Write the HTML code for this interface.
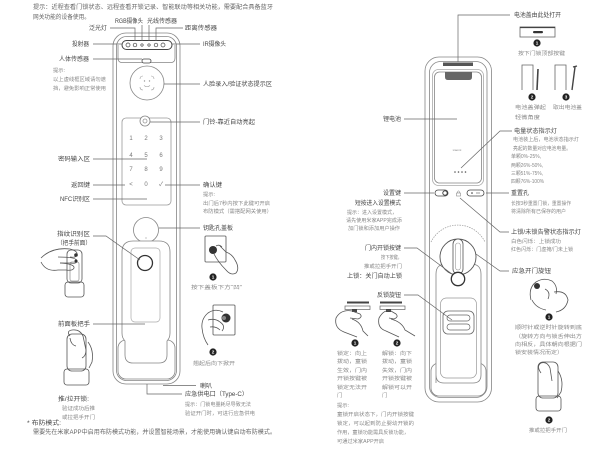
<!DOCTYPE html>
<html><head><meta charset="utf-8"><style>
html,body{margin:0;padding:0;background:#fff;width:600px;height:450px;overflow:hidden}
svg{display:block}
text{font-family:"Liberation Sans","Noto Sans CJK SC",sans-serif}
.l{font-size:6px;fill:#444}
.n{font-size:5.3px;fill:#888}
.t{font-size:6px;fill:#666}
.k{font-size:6px;fill:#777;text-anchor:middle}
.b{font-size:4.6px;fill:#fff;text-anchor:middle;font-weight:bold}
</style></head><body>
<svg width="600" height="450" viewBox="0 0 600 450" xmlns="http://www.w3.org/2000/svg">
<rect width="600" height="450" fill="#fff"/>

<!-- ================= LEFT TOP NOTE ================= -->
<text class="t" x="33" y="9" textLength="240" lengthAdjust="spacingAndGlyphs">提示：近程查看门锁状态、远程查看开锁记录、智能联动等相关功能，需要配合具备蓝牙</text>
<text class="t" x="33" y="19" textLength="57" lengthAdjust="spacingAndGlyphs">网关功能的设备使用。</text>

<!-- ================= LEFT DEVICE ================= -->
<g fill="none" stroke="#858585" stroke-width="0.8">
  <rect x="113" y="33" width="67" height="351" rx="13"/>
  <rect x="116.5" y="36.5" width="60" height="344" rx="10"/>
  <path d="M118,45 L118,58 Q118,62.5 122,62.5 L171,62.5 Q175,62.5 175,58 L175,45"/>
  <circle cx="147" cy="83" r="17"/>
  <rect x="122" y="118" width="49" height="87" rx="4" stroke="#999"/>
  <circle cx="145" cy="121" r="5" fill="#fff"/>
  <circle cx="145" cy="121" r="2" stroke="#999"/>
  <circle cx="146" cy="230" r="12.5"/>
  <rect x="118" y="340" width="57" height="39" rx="8"/>
</g>
<circle cx="146" cy="238" r="0.6" fill="#999"/>
<rect x="122" y="40.5" width="50" height="9" rx="4.5" fill="#fff" stroke="#444" stroke-width="1"/>
<g fill="#fff" stroke="#444" stroke-width="0.7">
  <circle cx="128" cy="45" r="2"/><circle cx="135" cy="45" r="1.8"/><circle cx="142" cy="45" r="1.2"/>
  <circle cx="149" cy="45" r="1.2"/><circle cx="156" cy="45" r="1.8"/><circle cx="163" cy="45" r="2"/>
</g>
<rect x="142" y="59" width="9" height="4" rx="2" fill="#fff" stroke="#444" stroke-width="0.8"/>
<g fill="none" stroke="#999" stroke-width="0.6">
  <path d="M140,79 Q140,76 143,76 M151,76 Q154,76 154,79 M140,87 Q140,90 143,90 M151,90 Q154,90 154,87 M144,85.5 Q147,88 150,85.5"/>
  <circle cx="144.5" cy="81" r="0.4"/><circle cx="149.5" cy="81" r="0.4"/>
</g>
<text class="k" x="131" y="140">1</text><text class="k" x="146" y="140">2</text><text class="k" x="161" y="140">3</text>
<text class="k" x="131" y="157">4</text><text class="k" x="146" y="157">5</text><text class="k" x="161" y="157">6</text>
<text class="k" x="131" y="171">7</text><text class="k" x="146" y="171">8</text><text class="k" x="161" y="171">9</text>
<text class="k" x="131" y="186">&lt;</text><text class="k" x="146" y="186">0</text><text class="k" x="161" y="186">✓</text>
<path d="M122,333 L122,252 Q122,241 133,241 L159,241 Q170,241 170,252 L170,333 Q170,338 167,341 L167,355 Q167,363 159,363 L133,363 Q125,363 125,355 L125,341 Q122,338 122,333 Z" fill="#fff" stroke="#858585" stroke-width="0.8"/>
<rect x="131" y="248" width="29" height="74" rx="4" fill="none" stroke="#aaa" stroke-width="0.7"/>
<circle cx="145" cy="263" r="7.5" fill="#fff" stroke="#333" stroke-width="1.3"/>

<g fill="none" stroke="#666" stroke-width="0.7">
  <path d="M110,28 H135 V41"/><path d="M142,25 V41"/><path d="M149,25 V41"/><path d="M183,28 H156 V41"/>
  <path d="M93,44 H122"/><path d="M172,44 H200"/><path d="M93,59 H142"/>
  <path d="M164,84 H200"/><path d="M150,122 H200"/>
  <path d="M93,159 H147"/><path d="M93,185 H125"/><path d="M93,199 H147"/>
  <path d="M165,185 H200"/><path d="M159,228 H200"/>
  <path d="M93,236 H106 L140,260"/><path d="M93,324 H145"/>
  <path d="M163,385.5 H196"/><path d="M147,384 V394 H182"/>
</g>

<text class="l" x="115" y="23" textLength="28" lengthAdjust="spacingAndGlyphs">RGB摄像头</text>
<text class="l" x="147" y="23" textLength="30" lengthAdjust="spacingAndGlyphs">光线传感器</text>
<text class="l" x="89" y="30" textLength="18" lengthAdjust="spacingAndGlyphs">泛光灯</text>
<text class="l" x="185" y="30" textLength="32" lengthAdjust="spacingAndGlyphs">距离传感器</text>
<text class="l" x="72" y="46" textLength="17" lengthAdjust="spacingAndGlyphs">投射器</text>
<text class="l" x="203" y="46" textLength="23" lengthAdjust="spacingAndGlyphs">IR摄像头</text>
<text class="l" x="59" y="61" textLength="30" lengthAdjust="spacingAndGlyphs">人体传感器</text>
<text class="n" x="53" y="72">提示:</text>
<text class="n" x="53" y="81" textLength="53" lengthAdjust="spacingAndGlyphs">以上虚线框区域请勿遮</text>
<text class="n" x="53" y="90" textLength="53" lengthAdjust="spacingAndGlyphs">挡，避免影响正常使用</text>
<text class="l" x="203" y="86" textLength="69" lengthAdjust="spacingAndGlyphs">人脸录入/验证状态提示区</text>
<text class="l" x="203" y="124" textLength="52" lengthAdjust="spacingAndGlyphs">门铃-靠近自动亮起</text>
<text class="l" x="58" y="161" textLength="32" lengthAdjust="spacingAndGlyphs">密码输入区</text>
<text class="l" x="71" y="187" textLength="19" lengthAdjust="spacingAndGlyphs">返回键</text>
<text class="l" x="60" y="201" textLength="30" lengthAdjust="spacingAndGlyphs">NFC识别区</text>
<text class="l" x="203" y="187" textLength="19" lengthAdjust="spacingAndGlyphs">确认键</text>
<text class="n" x="203" y="196">提示:</text>
<text class="n" x="203" y="205" textLength="67" lengthAdjust="spacingAndGlyphs">出门后7秒内按下此键可开启</text>
<text class="n" x="203" y="213" textLength="69" lengthAdjust="spacingAndGlyphs">布防模式（需搭配网关使用）</text>
<text class="l" x="203" y="230" textLength="30" lengthAdjust="spacingAndGlyphs">钥匙孔盖板</text>
<text class="l" x="57" y="236" textLength="33" lengthAdjust="spacingAndGlyphs">指纹识别区</text>
<text class="l" x="57" y="245" textLength="34" lengthAdjust="spacingAndGlyphs">（把手前面）</text>
<text class="n" x="191" y="289" textLength="51" lengthAdjust="spacingAndGlyphs">按下盖板下方“凹”</text>
<text class="l" x="58" y="326" textLength="32" lengthAdjust="spacingAndGlyphs">前面板把手</text>
<text class="n" x="193" y="365" textLength="42" lengthAdjust="spacingAndGlyphs">翘起后向下掀开</text>
<text class="l" x="200" y="388" textLength="12" lengthAdjust="spacingAndGlyphs">喇叭</text>
<text class="l" x="185" y="396" textLength="63" lengthAdjust="spacingAndGlyphs">应急供电口（Type-C）</text>
<text class="n" x="185" y="406" textLength="66" lengthAdjust="spacingAndGlyphs">提示：门锁电量耗尽导致无法</text>
<text class="n" x="185" y="415" textLength="70" lengthAdjust="spacingAndGlyphs">验证开门时，可进行应急供电</text>
<text class="l" x="58" y="401" textLength="31" lengthAdjust="spacingAndGlyphs">推/拉开锁:</text>
<text class="n" x="62" y="410" textLength="33" lengthAdjust="spacingAndGlyphs">验证成功后推</text>
<text class="n" x="62" y="419" textLength="33" lengthAdjust="spacingAndGlyphs">或拉把手开门</text>
<text class="l" x="27" y="425" textLength="34" lengthAdjust="spacingAndGlyphs">* 布防模式:</text>
<text class="t" x="33" y="434" textLength="243" lengthAdjust="spacingAndGlyphs">需要先在米家APP中启用布防模式功能，并设置智能场景，才能使用确认键启动布防模式。</text>

<g fill="none" stroke="#555" stroke-width="0.8">
  <rect x="67" y="250" width="15" height="33" rx="4"/>
  <rect x="70" y="262" width="9" height="19" rx="2" stroke="#999"/>
  <rect x="65" y="282" width="19" height="15" rx="3"/>
  <path d="M41,258 Q52,247 70,249 Q78,251 77,255 Q76,258 70,257"/>
  <path d="M58,257 Q77,257 77,261 Q77,264 70,263 L60,263"/>
  <path d="M60,263 Q75,264 74,268 Q73,271 66,270 L58,270"/>
  <path d="M41,262 Q46,272 58,270"/>
  <rect x="67" y="334" width="19" height="37" rx="5"/>
  <rect x="64" y="369" width="25" height="16" rx="3"/>
  <path d="M70,336 Q66,331 72,330 Q80,329 83,336 L86,350 Q86,356 82,358"/>
  <path d="M70,338 Q71,345 76,346 M88,342 Q94,350 92,362 L89,368"/>
  <rect x="205" y="236" width="21" height="26" rx="1"/>
  <path d="M214,254 Q218,262 226,270 Q231,276 236,273 Q240,268 235,260 Q232,254 226,252 L220,246"/>
  <path d="M216,246 Q219,244 222,247"/>
  <rect x="213" y="305" width="22" height="30" rx="1"/>
  <path d="M223,312 Q215,308 208,313 Q201,319 202,328 Q203,338 208,345 M208,320 Q215,318 220,322 M210,327 Q216,326 220,330 M220,322 Q226,326 222,331"/>
</g>
<circle cx="213" cy="250" r="4" fill="#333"/>
<circle cx="226" cy="318" r="4.5" fill="#333"/>
<circle cx="224" cy="318" r="2" fill="#888"/>
<circle cx="76" cy="255" r="1.8" fill="#333"/><circle cx="76" cy="261" r="1.5" fill="#333"/>
<circle cx="213" cy="277" r="3.6" fill="#222"/><text class="b" x="213" y="278.6">1</text>
<circle cx="213" cy="352" r="3.6" fill="#222"/><text class="b" x="213" y="353.6">2</text>

<!-- ================= RIGHT DEVICE ================= -->
<g fill="none" stroke="#858585" stroke-width="0.8">
  <rect x="425" y="57" width="66.5" height="345" rx="14"/>
  <rect x="429.5" y="61.5" width="57.5" height="336" rx="11"/>
  <rect x="432.5" y="69.5" width="51" height="116" rx="6" stroke="#aaa"/>
  <rect x="434.5" y="72" width="47" height="111" rx="5"/>
  <rect x="431" y="363" width="55" height="33" rx="8"/>
</g>
<rect x="443" y="62.5" width="30" height="3.5" fill="#555"/>
<path d="M445,72 L472,72 L472,77 Q472,80 469,80 L448,80 Q445,80 445,77 Z" fill="#666"/>
<text x="457" y="151" style="font-size:3px;fill:#888;text-anchor:middle">xiaomi</text>
<g fill="#555"><circle cx="455" cy="172" r="0.8"/><circle cx="458.5" cy="172" r="0.8"/><circle cx="462" cy="172" r="0.8"/><circle cx="465.5" cy="172" r="0.8"/></g>
<rect x="435" y="190" width="13" height="6" rx="3" fill="#fff" stroke="#444" stroke-width="0.8"/>
<circle cx="445" cy="193" r="2.2" fill="#fff" stroke="#333" stroke-width="0.9"/>
<rect x="467" y="190" width="17" height="6" rx="3" fill="#fff" stroke="#444" stroke-width="0.8"/>
<circle cx="472" cy="193" r="0.8" fill="#333"/><path d="M476,193 H480" stroke="#555" stroke-width="0.6"/>
<rect x="456.5" y="193" width="4" height="3" fill="none" stroke="#777" stroke-width="0.5"/>
<path d="M457.3,193 V191.8 Q458.5,190 459.7,191.8 V193" fill="none" stroke="#777" stroke-width="0.5"/>
<path d="M436,383 L436,274 Q436,264 446,264 L471,264 Q481,264 481,274 L481,375 Q481,383 473,383 L444,383 Q436,383 436,375 Z" fill="#fff" stroke="#858585" stroke-width="0.8"/>
<rect x="440.5" y="298" width="36" height="80" rx="6" fill="none" stroke="#999" stroke-width="0.7"/>
<path d="M431,242 A30,30 0 0 1 485,242" fill="none" stroke="#999" stroke-width="0.7" stroke-dasharray="1.5,1"/>
<circle cx="458" cy="257" r="18" fill="#fff" stroke="#555" stroke-width="0.9"/>
<rect x="453" y="239" width="10" height="35" rx="5" fill="#fff" stroke="#555" stroke-width="0.8"/>
<rect x="455.5" y="243" width="5" height="27" rx="2.5" fill="none" stroke="#999" stroke-width="0.6"/>
<circle cx="458" cy="279" r="6.7" fill="#fff" stroke="#333" stroke-width="1.3"/>
<rect x="443" y="311" width="31" height="23" rx="5" fill="#fff" stroke="#666" stroke-width="0.8"/>
<rect x="447" y="315" width="23" height="6" rx="3" fill="none" stroke="#666" stroke-width="0.7"/>
<rect x="447" y="324" width="23" height="6" rx="3" fill="none" stroke="#666" stroke-width="0.7"/>

<g fill="none" stroke="#666" stroke-width="0.7">
  <path d="M510,15 H458 V62"/>
  <path d="M404,119 H457"/>
  <path d="M512,131 H500 L461,168"/>
  <path d="M404,193 H434"/>
  <path d="M486,193 H509"/>
  <path d="M460,198 L500,232 H509"/>
  <path d="M404,248 H417 L452,274"/>
  <path d="M476,254 L500,271 H509"/>
  <path d="M404,295 H418 L452,320"/>
</g>

<rect x="520" y="27" width="35" height="10" fill="#fff" stroke="#666" stroke-width="0.8"/>
<path d="M520,27.5 H555" stroke="#444" stroke-width="1.2"/>
<rect x="533" y="31" width="10" height="2.2" rx="1.1" fill="#333"/>
<g fill="none" stroke="#666" stroke-width="0.8">
  <path d="M522,90 V65 H533 V90"/>
  <path d="M555,90 V65 H566 V90"/>
</g>
<path d="M538,69 L537,90" stroke="#444" stroke-width="1.6"/>
<path d="M575,67 L572,90 M573,67 L577,66" stroke="#444" stroke-width="1.4" fill="none"/>
<circle cx="537" cy="43" r="3.6" fill="#222"/><text class="b" x="537" y="44.6">1</text>
<circle cx="532" cy="97" r="3.6" fill="#222"/><text class="b" x="532" y="98.6">2</text>
<circle cx="566" cy="97" r="3.6" fill="#222"/><text class="b" x="566" y="98.6">3</text>

<text class="l" x="514" y="17" textLength="47" lengthAdjust="spacingAndGlyphs">电池盖由此处打开</text>
<text class="n" x="518" y="55" textLength="47" lengthAdjust="spacingAndGlyphs">按下门锁顶部按键</text>
<text class="n" x="515" y="109" textLength="31" lengthAdjust="spacingAndGlyphs">电池盖弹起</text>
<text class="n" x="515" y="119" textLength="25" lengthAdjust="spacingAndGlyphs">轻微角度</text>
<text class="n" x="553" y="109" textLength="29" lengthAdjust="spacingAndGlyphs">取出电池盖</text>
<text class="l" x="383" y="121" textLength="18" lengthAdjust="spacingAndGlyphs">锂电池</text>
<text class="l" x="514" y="133" textLength="43" lengthAdjust="spacingAndGlyphs">电量状态指示灯</text>
<text class="n" x="513" y="141" textLength="66" lengthAdjust="spacingAndGlyphs">电池装上后，电池状态指示灯</text>
<text class="n" x="513" y="150" textLength="58" lengthAdjust="spacingAndGlyphs">亮起的数量对应电池电量。</text>
<text class="n" x="511" y="158" textLength="30" lengthAdjust="spacingAndGlyphs">单颗0%-25%,</text>
<text class="n" x="511" y="167" textLength="32" lengthAdjust="spacingAndGlyphs">两颗26%-50%,</text>
<text class="n" x="511" y="175" textLength="32" lengthAdjust="spacingAndGlyphs">三颗51%-75%,</text>
<text class="n" x="511" y="183" textLength="33" lengthAdjust="spacingAndGlyphs">四颗76%-100%</text>
<text class="l" x="383" y="195" textLength="18" lengthAdjust="spacingAndGlyphs">设置键</text>
<text class="l" x="355" y="205" textLength="46" lengthAdjust="spacingAndGlyphs">短按进入设置模式</text>
<text class="n" x="347" y="214" textLength="50" lengthAdjust="spacingAndGlyphs">提示：进入设置模式，</text>
<text class="n" x="346" y="222" textLength="56" lengthAdjust="spacingAndGlyphs">请先使用米家APP完成添</text>
<text class="n" x="348" y="230" textLength="52" lengthAdjust="spacingAndGlyphs">加门锁和添加用户操作</text>
<text class="l" x="511" y="195" textLength="18" lengthAdjust="spacingAndGlyphs">重置孔</text>
<text class="n" x="511" y="205" textLength="60" lengthAdjust="spacingAndGlyphs">长按3秒重置门锁，重置操作</text>
<text class="n" x="511" y="213" textLength="55" lengthAdjust="spacingAndGlyphs">将清除所有已保存的用户</text>
<text class="l" x="511" y="234" textLength="70" lengthAdjust="spacingAndGlyphs">上锁/未锁告警状态指示灯</text>
<text class="n" x="511" y="243" textLength="50" lengthAdjust="spacingAndGlyphs">白色闪烁：上锁成功</text>
<text class="n" x="511" y="251" textLength="62" lengthAdjust="spacingAndGlyphs">红色闪烁：门虚掩/门未上锁</text>
<text class="l" x="365" y="250" textLength="36" lengthAdjust="spacingAndGlyphs">门内开锁按键</text>
<text class="n" x="381" y="259" textLength="21" lengthAdjust="spacingAndGlyphs">按下按键，</text>
<text class="n" x="364" y="268" textLength="38" lengthAdjust="spacingAndGlyphs">推或拉把手开门</text>
<text class="l" x="347" y="278" textLength="55" lengthAdjust="spacingAndGlyphs">上锁：关门自动上锁</text>
<text class="l" x="512" y="273" textLength="39" lengthAdjust="spacingAndGlyphs">应急开门旋钮</text>
<text class="l" x="377" y="297" textLength="24" lengthAdjust="spacingAndGlyphs">反锁旋钮</text>

<rect x="347" y="301.5" width="22" height="2" fill="#444"/>
<rect x="345" y="306" width="25" height="3.5" fill="none" stroke="#666" stroke-width="0.7"/>
<rect x="352" y="309" width="5" height="3" fill="#444"/>
<rect x="380" y="301.5" width="22" height="2" fill="#444"/>
<rect x="380" y="306" width="25" height="3.5" fill="none" stroke="#666" stroke-width="0.7"/>
<rect x="386" y="309" width="5" height="3" fill="#444"/>
<g fill="none" stroke="#555" stroke-width="0.8">
  <path d="M336,318 Q341,309 352,311 L360,314 Q363,317 358,319 L350,318"/>
  <path d="M336,318 Q334,328 344,332 L357,337 M352,319 Q361,322 363,331 L368,336"/>
  <path d="M379,318 Q384,309 391,311 L396,314 Q399,317 394,319 L389,318"/>
  <path d="M379,318 Q377,328 386,331 L399,337 M391,319 Q402,322 405,330 L415,336"/>
</g>
<circle cx="355" cy="343" r="3.6" fill="#222"/><text class="b" x="355" y="344.6">1</text>
<circle cx="397" cy="343" r="3.6" fill="#222"/><text class="b" x="397" y="344.6">2</text>
<text class="n" x="337" y="355" textLength="30" lengthAdjust="spacingAndGlyphs">锁定：向上</text>
<text class="n" x="337" y="363" textLength="30" lengthAdjust="spacingAndGlyphs">拨动，童锁</text>
<text class="n" x="337" y="372" textLength="30" lengthAdjust="spacingAndGlyphs">生效，门内</text>
<text class="n" x="337" y="380" textLength="30" lengthAdjust="spacingAndGlyphs">开锁按键被</text>
<text class="n" x="337" y="389" textLength="30" lengthAdjust="spacingAndGlyphs">锁定无法开</text>
<text class="n" x="337" y="397">门</text>
<text class="n" x="382" y="355" textLength="30" lengthAdjust="spacingAndGlyphs">解锁：向下</text>
<text class="n" x="382" y="363" textLength="30" lengthAdjust="spacingAndGlyphs">拨动，童锁</text>
<text class="n" x="382" y="372" textLength="30" lengthAdjust="spacingAndGlyphs">失效，门内</text>
<text class="n" x="382" y="380" textLength="30" lengthAdjust="spacingAndGlyphs">开锁按键被</text>
<text class="n" x="382" y="389" textLength="30" lengthAdjust="spacingAndGlyphs">解锁可以开</text>
<text class="n" x="382" y="397">门</text>
<text class="n" x="337" y="407">提示:</text>
<text class="n" x="337" y="416" textLength="77" lengthAdjust="spacingAndGlyphs">童锁开启状态下，门内开锁按键</text>
<text class="n" x="337" y="425" textLength="77" lengthAdjust="spacingAndGlyphs">锁定，可以起到防止婴幼开锁的</text>
<text class="n" x="337" y="434" textLength="72" lengthAdjust="spacingAndGlyphs">作用，童锁功能需具反锁功能，</text>
<text class="n" x="337" y="443" textLength="47" lengthAdjust="spacingAndGlyphs">可通过米家APP开启</text>

<g fill="none" stroke="#555" stroke-width="0.8">
  <path d="M531,300 Q528,288 536,282 Q544,277 552,281 Q558,286 556,294"/>
  <path d="M545,289 Q551,292 548,299 M554,292 Q566,290 568,300 Q566,310 556,312 M532,300 Q536,308 546,310"/>
  <rect x="538" y="362" width="20" height="36" rx="5"/>
  <rect x="536" y="396" width="25" height="15" rx="3"/>
  <path d="M541,373 Q536,366 541,363 Q547,361 550,368 L552,381 M558,371 Q564,380 561,392 L557,398"/>
</g>
<circle cx="537" cy="286" r="3" fill="#333"/>
<circle cx="549" cy="317" r="3.6" fill="#222"/><text class="b" x="549" y="318.6">1</text>
<circle cx="549" cy="420" r="3.6" fill="#222"/><text class="b" x="549" y="421.6">2</text>
<text class="n" x="515" y="329" textLength="67" lengthAdjust="spacingAndGlyphs">顺时针或逆时针旋转到底</text>
<text class="n" x="515" y="338" textLength="67" lengthAdjust="spacingAndGlyphs">（旋转方向与锁舌伸出方</text>
<text class="n" x="515" y="346" textLength="67" lengthAdjust="spacingAndGlyphs">向相反，具体朝向根据门</text>
<text class="n" x="515" y="354" textLength="48" lengthAdjust="spacingAndGlyphs">锁安装情况而定）</text>
<text class="n" x="529" y="432" textLength="38" lengthAdjust="spacingAndGlyphs">推或拉把手开门</text>
</svg>
</body></html>
